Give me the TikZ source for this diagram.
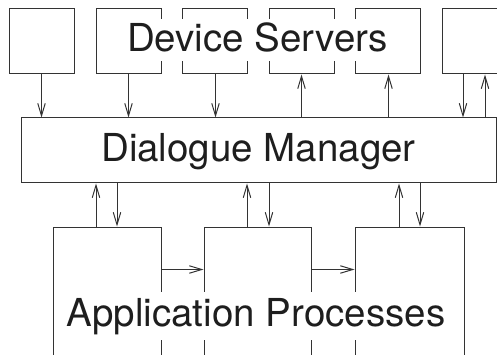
\documentclass[tikz,border=0pt]{standalone}
\usepackage{fontspec}
\setmainfont{TeX Gyre Heros}
\usetikzlibrary{arrows.meta}
\definecolor{ln}{HTML}{333333}
\definecolor{tx}{HTML}{1E1E1E}
\begin{document}
\begin{tikzpicture}[x=1pt,y=-1pt,
  box/.style={draw=ln,line width=1pt,inner sep=0pt,minimum width=65pt,minimum height=65pt},
  abox/.style={draw=ln,line width=1pt,inner sep=0pt,minimum height=160pt},
  lbl/.style={fill=white,text=tx,inner xsep=2pt,inner ysep=0pt,anchor=base,font=\fontsize{38.5}{46}\selectfont},
  arr/.style={draw=ln,line width=1pt,-{Straight Barb[length=12.5pt,width=7.5pt]}}]
\useasboundingbox (0,0) rectangle (497,355);
\clip (0,0) rectangle (497,355);
% device server boxes
\node[box] (d1) at (41.5,41.5) {};
\node[box] (d2) at (128.5,41.5) {};
\node[box] (d3) at (214.5,41.5) {};
\node[box] (d4) at (301.5,41.5) {};
\node[box] (d5) at (387.5,41.5) {};
\node[box] (d6) at (474.5,41.5) {};
% dialogue manager
\node[draw=ln,line width=1pt,inner sep=0pt,minimum width=475pt,minimum height=65pt] (dm) at (258.5,150.5) {};
% application boxes
\node[abox,minimum width=108pt] (aA) at (107,307) {};
\node[abox,minimum width=107pt] (aB) at (257.5,307) {};
\node[abox,minimum width=109pt] (aC) at (409.5,307) {};
% labels
\node[lbl,text height=33pt,text depth=9pt] (ds) at (257.5,52) {Device Servers};
\node[lbl,text height=30pt,text depth=8pt] (dml) at (258.5,162) {Dialogue Manager};
\node[lbl,text height=34pt,text depth=14pt] (ap) at (256,326) {Application Processes};
% top arrows
\draw[arr] (d1.south) -- (d1.south |- dm.north);
\draw[arr] (d2.south) -- (d2.south |- dm.north);
\draw[arr] ([xshift=1pt]d3.south) -- ([xshift=1pt]d3.south |- dm.north);
\draw[arr] (d4.south |- dm.north) -- (d4.south);
\draw[arr] ([xshift=1pt]d5.south |- dm.north) -- ([xshift=1pt]d5.south);
\draw[arr] ([xshift=-11.5pt]d6.south) -- ([xshift=-11.5pt]d6.south |- dm.north);
\draw[arr] ([xshift=10.5pt]d6.south |- dm.north) -- ([xshift=10.5pt]d6.south);
% bottom arrows
\draw[arr] ([xshift=-11pt]aA.north) -- ([xshift=-11pt]aA.north |- dm.south);
\draw[arr] ([xshift=10pt]aA.north |- dm.south) -- ([xshift=10pt]aA.north);
\draw[arr] ([xshift=-10.5pt]aB.north) -- ([xshift=-10.5pt]aB.north |- dm.south);
\draw[arr] ([xshift=11.5pt]aB.north |- dm.south) -- ([xshift=11.5pt]aB.north);
\draw[arr] ([xshift=-10.5pt]aC.north) -- ([xshift=-10.5pt]aC.north |- dm.south);
\draw[arr] ([xshift=10.5pt]aC.north |- dm.south) -- ([xshift=10.5pt]aC.north);
% horizontal arrows
\draw[arr] ([yshift=-43pt]aA.north east) -- ([yshift=-43pt]aB.north west);
\draw[arr] ([yshift=-43pt]aB.north east) -- ([yshift=-43pt]aC.north west);
\end{tikzpicture}
\end{document}
